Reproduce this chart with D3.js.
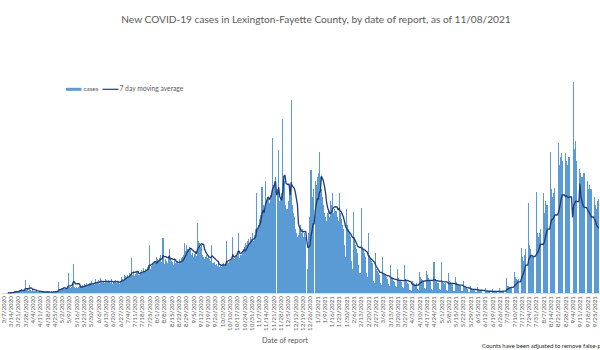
<!DOCTYPE html>
<html><head><meta charset="utf-8">
<script src="https://cdn.jsdelivr.net/npm/d3@7"></script>
<style>body{margin:0;background:#fff;overflow:hidden} svg{display:block}</style>
</head><body><svg id="c" width="600" height="350"></svg>
<script>
// ---- data ----
const startDate = "2020-03-07";
const cases = [
  0,1,0,0,0,1,0,  0,1,2,1,3,2,4,  5,6,4,8,7,9,6,  5,8,32,7,9,6,20,
  7,6,8,5,6,4,5,  3,2,4,3,2,3,2,  3,2,4,2,3,1,3,  2,4,3,5,4,6,28,
  8,10,12,9,14,11,13,  12,50,14,12,16,20,72,  14,12,15,13,16,18,12,  18,20,16,22,19,25,17,
  22,24,30,20,26,21,35,  25,28,32,22,38,27,24,  30,26,35,28,24,32,27,  26,35,22,28,32,25,30,
  30,22,28,40,36,32,45,  42,38,46,40,50,48,87,  45,50,42,48,55,52,44,  52,58,50,62,55,60,56,
  65,70,120,60,68,72,75,  80,75,90,85,82,88,95,  78,137,72,85,80,75,88,  110,85,80,78,70,82,75,
  75,80,72,85,78,88,90,  95,125,105,120,110,115,112,  95,100,90,98,105,92,176,  130,125,115,120,95,90,85,
  90,95,88,92,85,80,120,  75,78,70,72,68,74,66,  70,65,72,75,68,70,131,  78,75,80,85,82,140,88,
  85,90,92,150,88,95,96,  105,110,115,125,120,130,135,  125,140,135,150,130,145,160,  250,160,170,185,195,265,220,
  210,280,230,240,235,225,245,  250,387,270,280,290,0,260,  357,230,240,250,436,270,280,  220,210,230,260,250,482,220,
  200,190,160,150,140,145,165,  170,150,160,140,150,140,0,  60,150,190,308,240,260,0,  280,270,290,300,353,290,260,
  240,220,200,190,180,200,210,  190,230,220,250,200,210,205,  190,180,250,200,185,170,160,  120,90,210,170,160,150,140,
  80,60,203,140,120,110,100,  70,50,212,116,110,100,90,  50,40,149,95,85,80,75,  30,25,100,60,55,50,45,
  25,20,90,50,45,40,35,  22,18,70,40,35,30,28,  18,15,60,38,32,30,28,  15,12,70,35,30,25,22,
  8,6,30,25,22,20,25,  10,8,53,40,35,32,30,  12,10,55,45,38,32,30,  10,8,77,35,30,26,24,
  9,7,77,30,25,22,24,  8,6,50,30,27,25,22,  6,5,40,28,22,20,18,  5,4,30,18,14,12,10,
  3,2,18,12,10,9,8,  2,2,14,9,8,7,6,  0,0,12,6,5,4,4,  0,0,10,5,4,4,3,
  0,0,12,6,5,5,6,  0,0,37,18,15,14,16,  0,0,53,40,35,33,35,  0,0,112,90,80,95,110,
  0,0,224,120,110,95,90,  0,0,253,150,140,150,160,  0,0,249,200,230,220,220,  0,0,353,260,240,250,262,
  0,0,374,320,340,350,331,  0,0,349,330,320,340,341,  0,0,0,528,360,380,330,  0,0,310,300,290,300,300,
  0,0,280,260,270,260,260,  0,0,240,220,210,230,235
];
const seriesNames = ["cases", "7 day moving average"];
const chartTitle = "New COVID-19 cases in Lexington-Fayette County, by date of report, as of 11/08/2021";
const xTitle = "Date of report";
const footnote = "Counts have been adjusted to remove false-positive results";

// ---- derived ----
const parse = d3.utcParse("%Y-%m-%d");
const fmt = d3.utcFormat("%-m/%-d/%Y");
const t0 = parse(startDate);
const dates = cases.map((_, i) => d3.utcDay.offset(t0, i));
const movingAvg = cases.map((_, i) => i < 6 ? null : d3.mean(cases.slice(i - 6, i + 1)));
const tickDates = dates.filter((_, i) => i % 7 === 0);

const barColor = "#5B9BD5", lineColor = "#1F3A78", textColor = "#595959";
const font = "Lato, 'Open Sans', sans-serif";

const svg = d3.select("#c");
const x = d3.scaleBand().domain(dates).range([0.9, 599.2]).paddingInner(0).paddingOuter(0);
const y = d3.scaleLinear().domain([0, 600]).range([293, 53]);

// bars
svg.append("g").attr("shape-rendering", "crispEdges")
  .selectAll("rect").data(cases).join("rect")
  .attr("x", (d, i) => x(dates[i]))
  .attr("width", x.bandwidth())
  .attr("y", d => y(d))
  .attr("height", d => y(0) - y(d))
  .attr("fill", barColor);

// axis
const ax = svg.append("g").attr("transform", `translate(0,${y(0)})`)
  .call(d3.axisBottom(x).tickValues(tickDates).tickFormat(fmt).tickSize(0).tickSizeOuter(0));
ax.select(".domain").attr("stroke", "#d9d9d9").attr("stroke-width", 1);
ax.selectAll("text")
  .attr("transform", "rotate(-90)")
  .attr("text-anchor", "end")
  .attr("x", -3).attr("y", 2.2).attr("dy", "0.35em")
  .attr("fill", textColor)
  .style("font-family", font).style("font-size", "6.3px");

// moving average line
const line = d3.line()
  .defined(d => d != null)
  .x((d, i) => x(dates[i]) + x.bandwidth() / 2)
  .y(d => y(d))
  .curve(d3.curveLinear);
svg.append("path").datum(movingAvg)
  .attr("d", line)
  .attr("fill", "none").attr("stroke", lineColor).attr("stroke-width", 1.3)
  .attr("stroke-linejoin", "round");

// title
function fit(sel, w) {
  const n = sel.node(); const fs = parseFloat(sel.style("font-size"));
  const L = n.getComputedTextLength(); if (L > 0) sel.style("font-size", (fs * w / L) + "px");
}
const tt = svg.append("text").attr("x", 316).attr("y", 23).attr("text-anchor", "middle")
  .attr("fill", textColor).style("font-family", font).style("font-size", "11px").text(chartTitle);
fit(tt, 390);

// legend
svg.append("rect").attr("x", 66).attr("y", 87.8).attr("width", 15.5).attr("height", 3).attr("fill", barColor);
svg.append("text").attr("x", 83.5).attr("y", 91.3).attr("fill", textColor)
  .style("font-family", font).style("font-size", "6.3px").text(seriesNames[0]);
svg.append("line").attr("x1", 102.5).attr("x2", 118.5).attr("y1", 89.3).attr("y2", 89.3)
  .attr("stroke", lineColor).attr("stroke-width", 1.2);
const lt = svg.append("text").attr("x", 119.5).attr("y", 91.3).attr("fill", textColor)
  .style("font-family", font).style("font-size", "6.3px").text(seriesNames[1]);
fit(lt, 64);

// axis title
const xt = svg.append("text").attr("x", 285).attr("y", 343).attr("text-anchor", "middle")
  .attr("fill", textColor).style("font-family", font).style("font-size", "7.5px").text(xTitle);
fit(xt, 46);

// footnote (runs past the right edge, as in the reference)
const fn = svg.append("text").attr("x", 482).attr("y", 347.5).attr("fill", "#262626")
  .style("font-family", font).style("font-size", "6.6px").text(footnote.slice(0, 43));
fit(fn, 119);
fn.text(footnote);
</script></body></html>
